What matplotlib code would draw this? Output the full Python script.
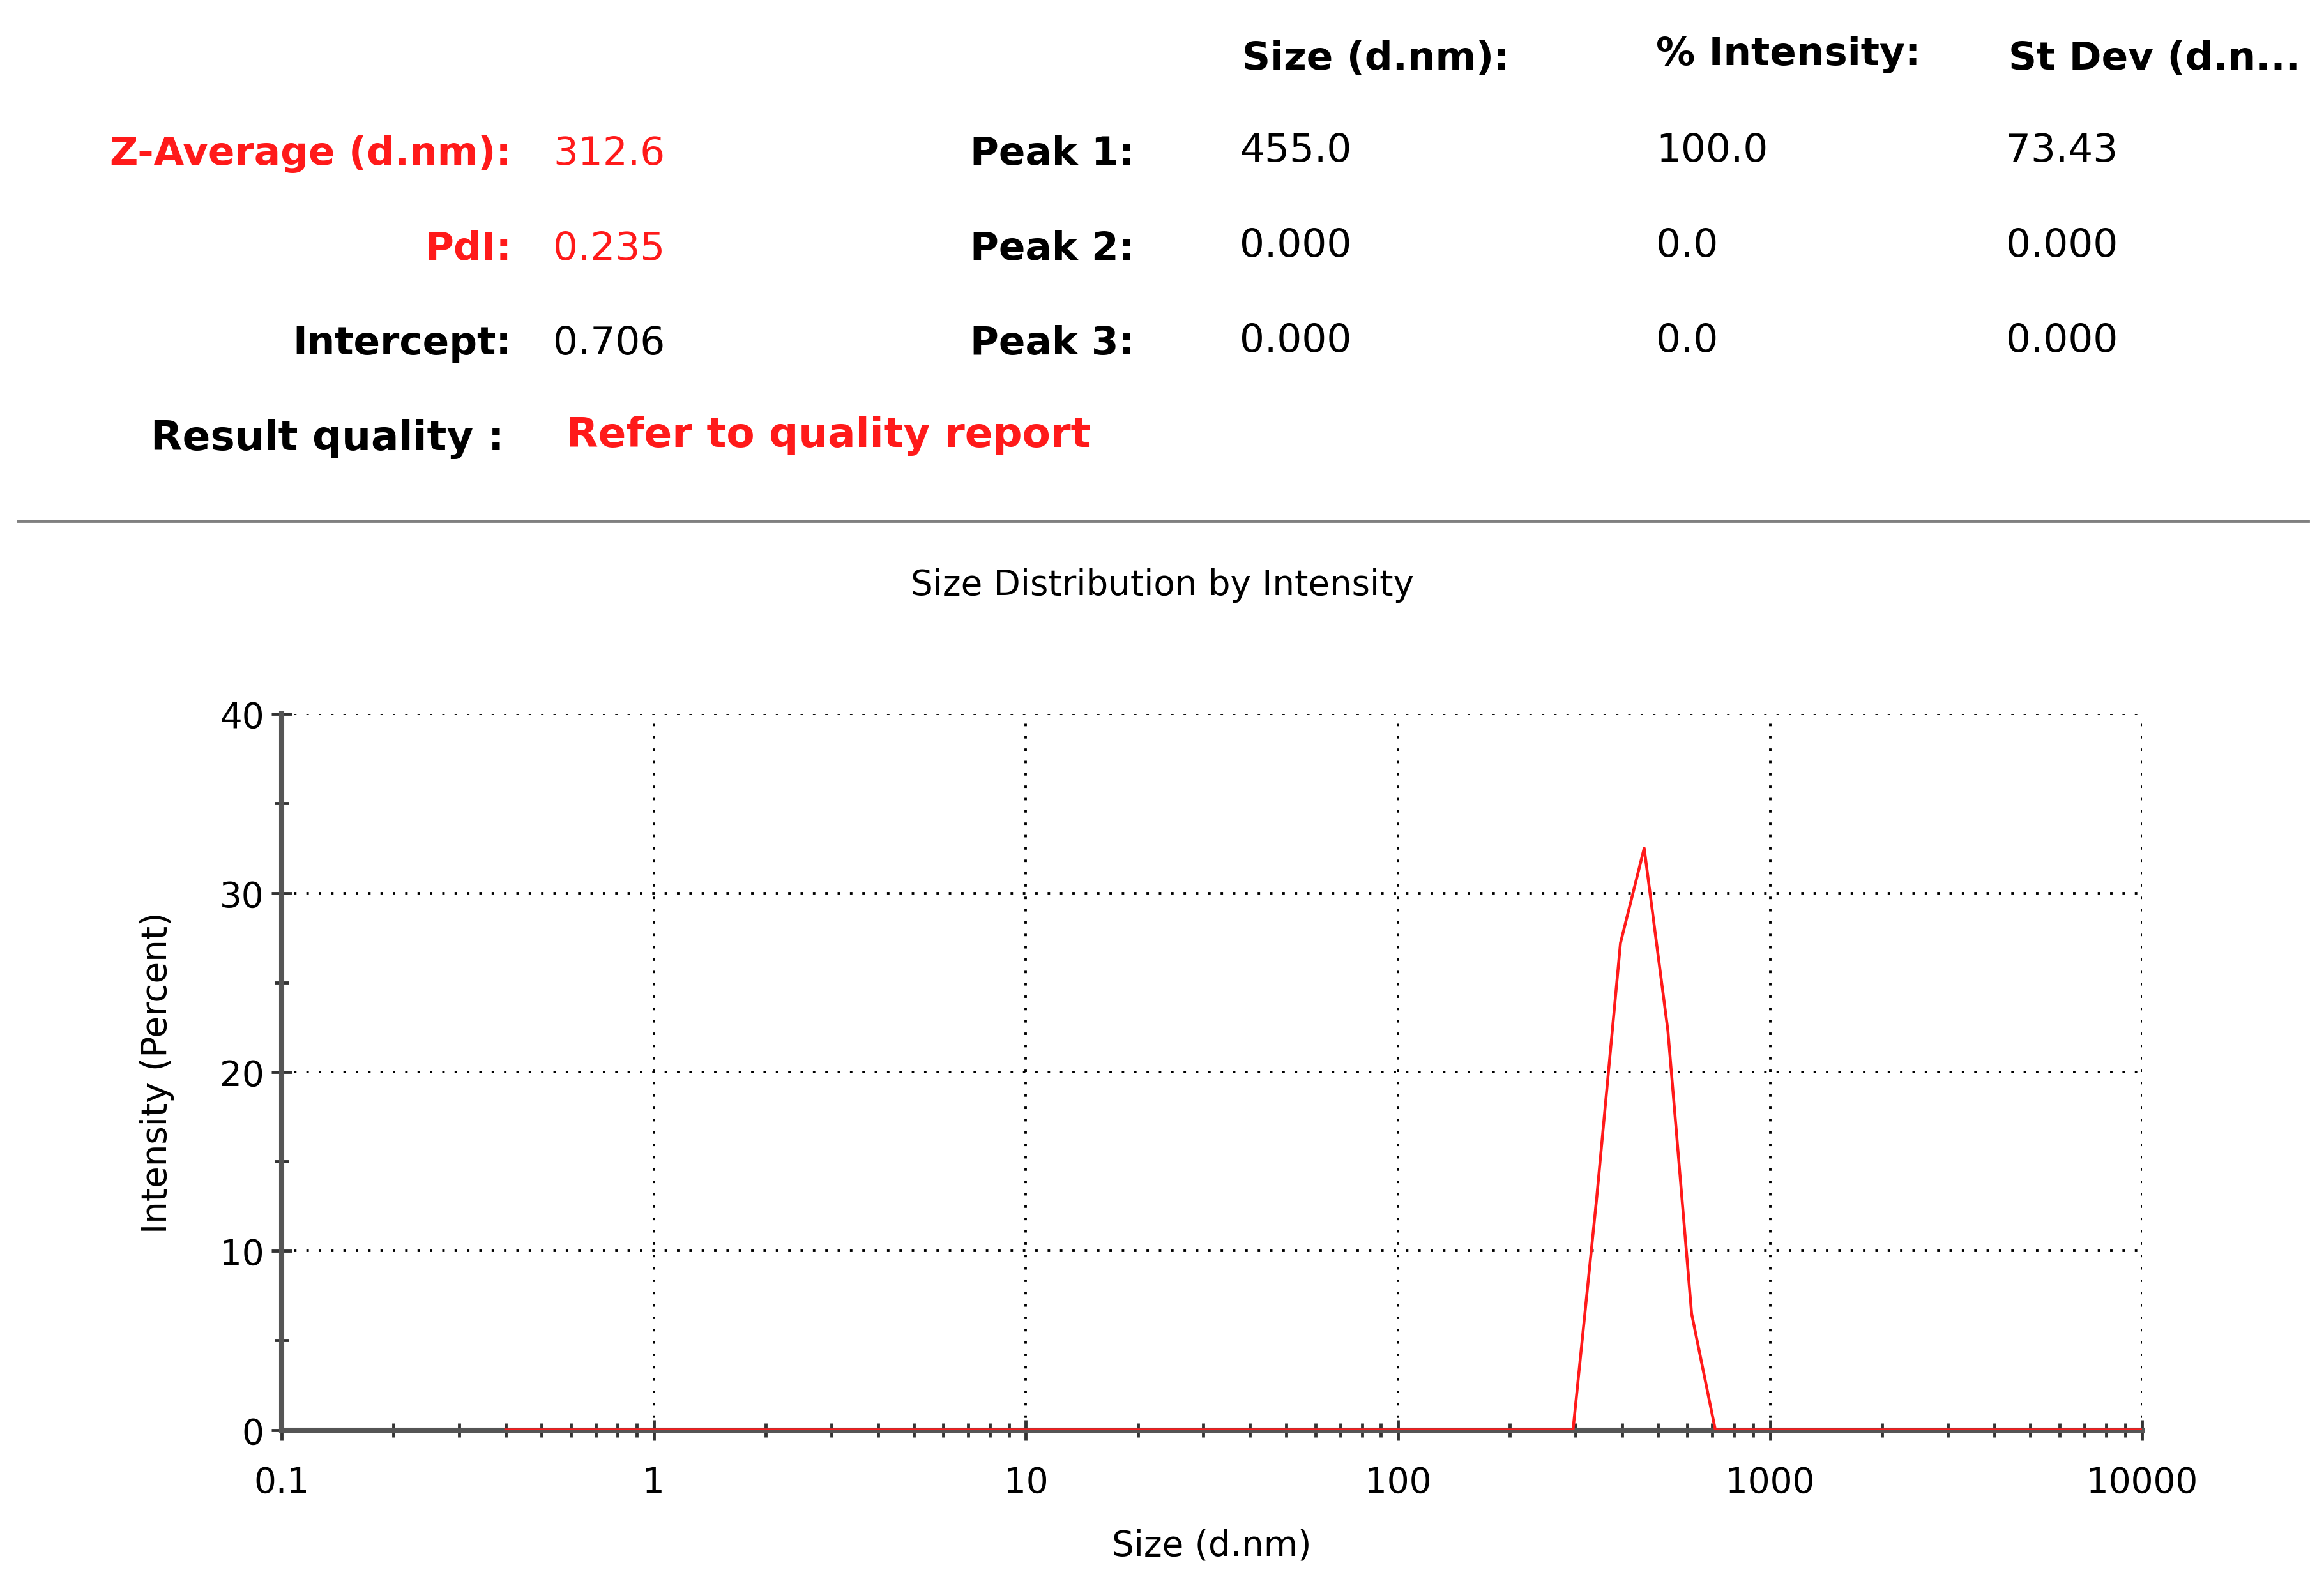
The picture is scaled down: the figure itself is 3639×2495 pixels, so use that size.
import matplotlib
matplotlib.use("Agg")
import matplotlib.pyplot as plt
from matplotlib.lines import Line2D
from matplotlib.ticker import FixedLocator, NullFormatter

sizes = [0.4, 295.3, 342.0, 396.1, 458.7, 531.2, 615.1, 712.4, 10000]
intensity = [0, 0, 13.0, 27.2, 32.5, 22.3, 6.5, 0, 0]
x_ticks = [0.1, 1, 10, 100, 1000, 10000]
x_labels = ["0.1", "1", "10", "100", "1000", "10000"]
y_ticks = [0, 10, 20, 30, 40]

W, H = 1568, 1075
fig = plt.figure(figsize=(15.68, 10.752), dpi=232.14)
plt.rcParams['font.family'] = ['DejaVu Sans']

def T(x, y, s, color="black", bold=True, ha="left", size=19):
    fig.text(x / W, 1 - y / H, s, color=color, ha=ha, va="center",
             fontsize=size, fontweight="bold" if bold else "normal")

RED = "#ff1a1a"
T(345, 104, "Z-Average (d.nm):", RED, ha="right")
T(373, 104, "312.6", RED, bold=False)
T(345, 168, "PdI:", RED, ha="right")
T(373, 168, "0.235", RED, bold=False)
T(345, 232, "Intercept:", ha="right")
T(373, 232, "0.706", bold=False)
T(340, 296, "Result quality :", ha="right", size=20)
T(382, 294, "Refer to quality report", RED, size=20)

T(838, 40, "Size (d.nm):")
T(1117, 37, "% Intensity:")
T(1355, 40, "St Dev (d.n...")
for i, (pk, s, p, sd) in enumerate([("Peak 1:", "455.0", "100.0", "73.43"),
                                     ("Peak 2:", "0.000", "0.0", "0.000"),
                                     ("Peak 3:", "0.000", "0.0", "0.000")]):
    y = 104 + 64 * i
    T(765, y, pk, ha="right")
    T(836, y - 2, s, bold=False)
    T(1117, y - 2, p, bold=False)
    T(1353, y - 2, sd, bold=False)

fig.add_artist(Line2D([12 / W, 1557 / W], [1 - 352 / H, 1 - 352 / H],
                      color="#808080", lw=1.5, transform=fig.transFigure))
T(784, 395, "Size Distribution by Intensity", bold=False, ha="center", size=17)

ax = fig.add_axes([190 / W, 1 - 965 / H, (1445 - 190) / W, (965 - 482) / H])
ax.plot(sizes, intensity, color=RED, lw=1.4, zorder=3)
ax.set_xscale("log")
ax.set_xlim(0.1, 10000)
ax.set_ylim(0, 40)
ax.set_xticks(x_ticks)
ax.set_xticklabels(x_labels)
ax.set_yticks(y_ticks)
ax.yaxis.set_minor_locator(FixedLocator([5, 15, 25, 35]))
ax.xaxis.set_minor_formatter(NullFormatter())
ax.grid(True, which="major", color="black", ls=(0, (1, 4)), lw=1.2)
for s in ["top", "right"]:
    ax.spines[s].set_visible(False)
for s in ["left", "bottom"]:
    ax.spines[s].set_color("#555555")
    ax.spines[s].set_linewidth(2.5)
ax.tick_params(which="both", direction="inout", color="#333333", width=1.5,
               labelsize=17)
ax.tick_params(which="major", length=10)
ax.tick_params(which="minor", length=7)
ax.tick_params(axis="x", pad=12)
ax.set_xlabel("Size (d.nm)", fontsize=17, labelpad=14)
ax.set_ylabel("Intensity (Percent)", fontsize=17, labelpad=22)

fig.savefig("out.png", dpi=232.14)
